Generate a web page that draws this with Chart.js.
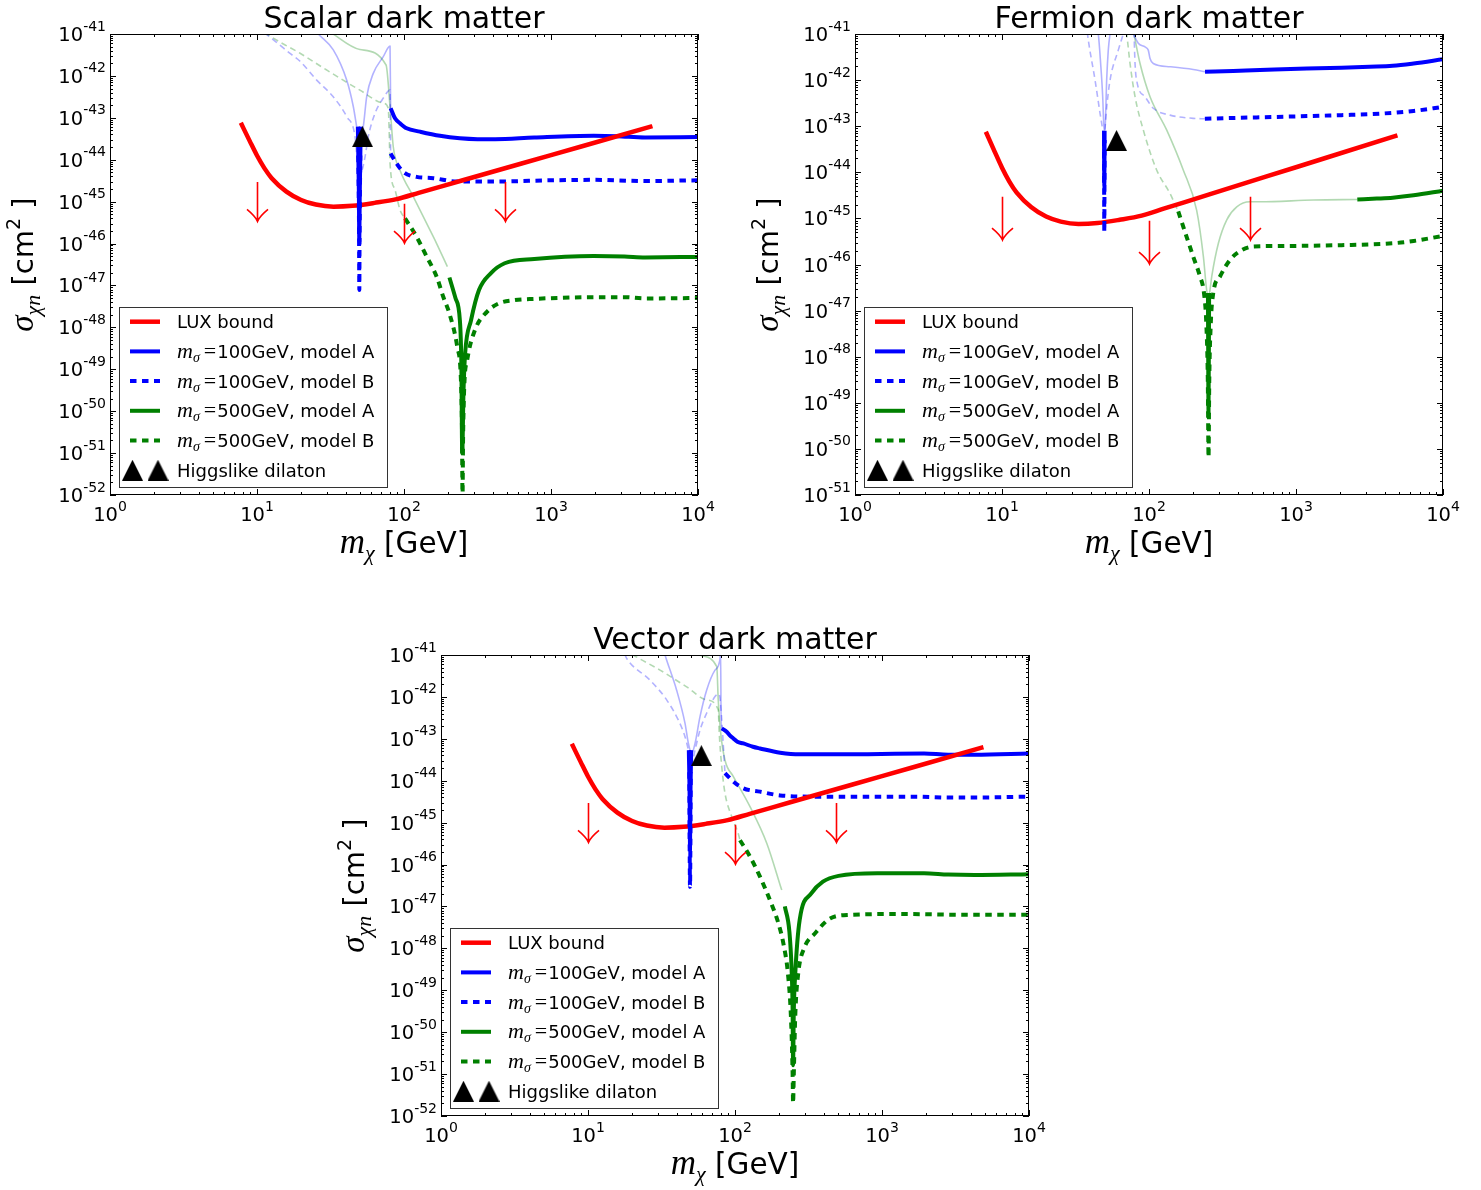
<!DOCTYPE html>
<html>
<head>
<meta charset="utf-8">
<title>Dark matter direct detection</title>
<script src="https://cdn.jsdelivr.net/npm/chart.js@4.4.0/dist/chart.umd.min.js"></script>
<style>
  html, body { margin: 0; padding: 0; background: #fff; }
  body { width: 1481px; height: 1190px; position: relative; overflow: hidden; }
  canvas { position: absolute; }
</style>
</head>
<body>
<canvas id="scalarChart" width="740" height="580" style="left:0;top:0"></canvas>
<canvas id="fermionChart" width="741" height="580" style="left:740px;top:0"></canvas>
<canvas id="vectorChart" width="740" height="580" style="left:330px;top:610px"></canvas>
<script>
// every point is [log10(m_chi / GeV), log10(sigma / cm^2)]

// tick labels (exponents of 10)
const xTickExps = [0, 1, 2, 3, 4];
const yTickExpsScalar = [-41, -42, -43, -44, -45, -46, -47, -48, -49, -50, -51, -52];
const yTickExpsFermion = [-41, -42, -43, -44, -45, -46, -47, -48, -49, -50, -51];

// LUX bound, same curve in the three panels
const luxBound = [[0.89,-43.12],[0.95,-43.55],[1.0,-43.90],[1.05,-44.20],[1.1,-44.44],[1.2,-44.76],[1.3,-44.96],[1.4,-45.07],[1.52,-45.12],[1.65,-45.10],[1.8,-45.03],[1.95,-44.94],[2.1,-44.79],[2.4,-44.49],[2.8,-44.09],[3.2,-43.69],[3.69,-43.20]];

// red arrows: position, tail, tip
const arrowX = [1.0, 2.0, 2.69];
const arrowTail = [-44.53, -45.05, -44.53];
const arrowTip = [-45.47, -45.99, -45.47];

// ---- scalar dark matter ----
const scalarA = [[1.909,-42.77],[1.939,-43.01],[1.973,-43.13],[2.018,-43.25],[2.109,-43.33],[2.245,-43.43],[2.38,-43.49],[2.5,-43.51],[2.62,-43.51],[2.886,-43.47],[3.29,-43.43],[3.45,-43.44],[3.64,-43.47],[4.0,-43.46]];
const scalarASpike = [[1.686,-43.21],[1.693,-44.8],[1.696,-45.95],[1.699,-44.8],[1.706,-43.21]];
const scalarB = [[1.909,-43.85],[1.95,-44.09],[1.995,-44.29],[2.086,-44.41],[2.199,-44.44],[2.358,-44.52],[2.62,-44.52],[3.0,-44.49],[3.3,-44.48],[3.64,-44.51],[4.0,-44.49]];
const scalarBSpike = [[1.689,-43.9],[1.694,-45.6],[1.696,-47.11],[1.698,-45.6],[1.703,-43.9]];
const scalarC = [[2.309,-46.81],[2.35,-47.3],[2.38,-47.83],[2.39,-48.86],[2.396,-51.0],[2.405,-49.5],[2.416,-48.62],[2.456,-47.83],[2.51,-47.11],[2.59,-46.71],[2.685,-46.47],[2.886,-46.37],[3.29,-46.30],[3.5,-46.31],[3.64,-46.33],[4.0,-46.32]];
const scalarD = [[2.007,-45.40],[2.086,-45.84],[2.154,-46.31],[2.222,-46.79],[2.267,-47.27],[2.309,-47.67],[2.362,-48.46],[2.389,-49.42],[2.395,-50.61],[2.398,-52.1],[2.402,-50.6],[2.41,-49.4],[2.43,-48.78],[2.483,-48.06],[2.564,-47.63],[2.644,-47.43],[2.752,-47.35],[2.886,-47.32],[3.29,-47.28],[3.5,-47.28],[3.64,-47.31],[4.0,-47.30]];
const scalarAFaint = [[1.40,-40.93],[1.417,-41.0],[1.519,-41.38],[1.61,-42.10],[1.655,-42.73],[1.678,-43.21],[1.69,-43.45],[1.703,-43.45],[1.723,-43.21],[1.746,-42.50],[1.791,-41.94],[1.859,-41.54],[1.905,-41.29],[1.909,-42.77]];
const scalarBFaint = [[1.05,-40.97],[1.15,-41.25],[1.22,-41.45],[1.293,-41.65],[1.406,-42.10],[1.519,-42.50],[1.61,-42.97],[1.667,-43.45],[1.68,-43.93],[1.706,-44.3],[1.735,-43.93],[1.757,-43.45],[1.803,-42.89],[1.859,-42.53],[1.905,-42.34],[1.909,-43.85]];
const scalarCFaint = [[1.50,-40.95],[1.519,-41.0],[1.70,-41.37],[1.878,-41.74],[1.905,-42.73],[1.927,-43.69],[1.973,-44.25],[2.063,-44.88],[2.154,-45.52],[2.222,-46.0],[2.295,-46.55]];
const scalarDFaint = [[1.05,-40.97],[1.17,-41.22],[1.293,-41.46],[1.474,-41.86],[1.70,-42.34],[1.859,-42.65],[1.893,-42.77],[1.899,-43.29],[1.905,-44.09],[1.939,-44.72],[1.973,-45.20],[2.007,-45.40]];
const scalarDilaton = [[1.718,-43.45]];

// ---- fermion dark matter ----
const fermionA = [[2.381,-41.82],[2.573,-41.80],[2.755,-41.78],[2.853,-41.77],[3.31,-41.73],[3.5,-41.71],[3.658,-41.69],[3.8,-41.64],[4.0,-41.55]];
const fermionASpike = [[1.694,-43.1],[1.696,-44.28],[1.698,-43.1]];
const fermionB = [[2.38,-42.84],[2.584,-42.82],[2.853,-42.80],[3.309,-42.76],[3.5,-42.74],[3.658,-42.71],[3.8,-42.67],[4.0,-42.58]];
const fermionBSpike = [[1.694,-43.3],[1.696,-45.29],[1.698,-43.3]];
const fermionC = [[3.417,-44.59],[3.55,-44.57],[3.658,-44.55],[3.8,-44.50],[4.0,-44.40]];
const fermionCSpike = [[2.401,-46.62],[2.405,-49.22],[2.409,-46.62]];
const fermionD = [[2.199,-44.85],[2.256,-45.40],[2.301,-45.83],[2.347,-46.26],[2.374,-46.62],[2.39,-47.3],[2.40,-48.5],[2.405,-50.18],[2.41,-48.5],[2.42,-47.3],[2.437,-46.62],[2.483,-46.26],[2.551,-45.90],[2.63,-45.69],[2.71,-45.61],[2.853,-45.60],[3.31,-45.58],[3.658,-45.54],[3.8,-45.49],[4.0,-45.38]];
const fermionAFaintLow = [[1.650,-40.95],[1.655,-41.0],[1.671,-41.64],[1.685,-42.36],[1.692,-42.94],[1.697,-43.12],[1.703,-42.94],[1.712,-42.0],[1.723,-41.35],[1.735,-41.0],[1.74,-40.9]];
const fermionAFaintHigh = [[1.895,-40.95],[1.898,-41.0],[1.927,-41.2],[1.973,-41.28],[1.995,-41.35],[2.007,-41.53],[2.029,-41.64],[2.143,-41.71],[2.301,-41.77],[2.381,-41.82]];
const fermionBFaintLow = [[1.58,-40.95],[1.587,-41.13],[1.633,-42.0],[1.667,-42.72],[1.685,-43.08],[1.694,-43.3],[1.70,-43.08],[1.712,-42.6],[1.735,-42.0],[1.791,-41.35],[1.825,-41.0],[1.83,-40.95]];
const fermionBFaintHigh = [[1.898,-40.95],[1.905,-41.64],[1.920,-42.07],[1.973,-42.36],[2.029,-42.61],[2.143,-42.76],[2.301,-42.83],[2.38,-42.84]];
const fermionCFaint = [[1.895,-40.95],[1.898,-41.0],[1.939,-41.64],[2.007,-42.36],[2.12,-43.08],[2.233,-43.95],[2.324,-44.82],[2.37,-45.83],[2.392,-46.55],[2.405,-46.75],[2.415,-46.55],[2.427,-46.26],[2.472,-45.54],[2.529,-45.03],[2.597,-44.75],[2.687,-44.64],[2.755,-44.64],[3.12,-44.60],[3.417,-44.59]];
const fermionDFaint = [[1.845,-40.95],[1.848,-41.0],[1.871,-41.64],[1.905,-42.36],[1.961,-43.08],[2.052,-43.95],[2.143,-44.46],[2.199,-44.85]];
const fermionDilaton = [[1.779,-43.31]];

// ---- vector dark matter ----
const vectorA = [[1.91,-42.75],[1.943,-42.83],[1.963,-42.91],[1.989,-42.99],[2.016,-43.07],[2.057,-43.11],[2.122,-43.19],[2.17,-43.23],[2.307,-43.33],[2.44,-43.37],[2.704,-43.37],[3.286,-43.35],[3.45,-43.38],[3.63,-43.38],[4.0,-43.35]];
const vectorASpike = [[1.686,-43.27],[1.692,-44.6],[1.694,-45.65],[1.696,-44.6],[1.702,-43.27]];
const vectorB = [[1.932,-43.82],[1.989,-44.02],[2.057,-44.18],[2.17,-44.26],[2.307,-44.35],[2.571,-44.38],[3.233,-44.38],[3.45,-44.40],[3.63,-44.40],[4.0,-44.38]];
const vectorBSpike = [[1.689,-43.8],[1.694,-46.53],[1.699,-43.8]];
const vectorC = [[2.339,-47.0],[2.37,-47.6],[2.385,-48.5],[2.392,-49.5],[2.395,-50.79],[2.40,-49.5],[2.41,-48.6],[2.44,-47.32],[2.519,-46.69],[2.598,-46.41],[2.704,-46.27],[2.968,-46.21],[3.286,-46.21],[3.45,-46.24],[3.63,-46.25],[4.0,-46.23]];
const vectorD = [[2.034,-45.42],[2.102,-45.81],[2.17,-46.29],[2.238,-46.85],[2.295,-47.40],[2.33,-47.9],[2.36,-48.6],[2.38,-49.6],[2.392,-51.0],[2.395,-51.69],[2.40,-51.0],[2.41,-49.6],[2.43,-48.6],[2.47,-48.0],[2.545,-47.64],[2.65,-47.28],[2.783,-47.20],[3.1,-47.18],[3.63,-47.20],[4.0,-47.20]];
const vectorAFaint = [[1.52,-40.95],[1.524,-41.0],[1.603,-41.84],[1.66,-42.63],[1.683,-43.11],[1.705,-43.35],[1.728,-43.11],[1.762,-42.47],[1.807,-41.84],[1.864,-41.36],[1.898,-41.1],[1.902,-40.85],[1.906,-42.75],[1.91,-42.75]];
const vectorBFaint = [[1.25,-40.98],[1.263,-41.08],[1.422,-41.60],[1.535,-42.07],[1.614,-42.55],[1.66,-42.95],[1.683,-43.27],[1.705,-43.6],[1.728,-43.27],[1.762,-42.79],[1.807,-42.39],[1.864,-41.99],[1.891,-41.93],[1.90,-42.1],[1.932,-43.82]];
const vectorCFaint = [[1.76,-40.97],[1.762,-41.0],[1.876,-41.28],[1.886,-42.07],[1.903,-42.87],[1.932,-43.51],[1.989,-43.90],[2.102,-44.62],[2.216,-45.49],[2.318,-46.61]];
const vectorDFaint = [[1.30,-40.98],[1.308,-41.0],[1.49,-41.36],[1.671,-41.76],[1.807,-42.07],[1.886,-42.31],[1.893,-42.87],[1.91,-43.67],[1.932,-44.30],[1.978,-44.86],[2.022,-45.26],[2.034,-45.42]];
const vectorDilaton = [[1.771,-43.40]];

// legend texts
const legendMass = ['100GeV, model A', '100GeV, model B', '500GeV, model A', '500GeV, model B'];

const RED = '#ff0000', BLUE = '#0000ff', GREEN = '#008000';
const FAINT_BLUE = 'rgba(0, 0, 255, 0.3)', FAINT_GREEN = 'rgba(0, 128, 0, 0.3)';
const DOTS = [6.5, 5.5], DASHES = [6, 4];
const SANS = '"DejaVu Sans", sans-serif';
const SERIF = '"Liberation Serif", "DejaVu Serif", serif';

const toPoints = arr => arr.map(([lm, ls]) => ({ x: 10 ** lm, y: 10 ** ls }));

// black triangle used as point style (isoceles, like matplotlib '^')
function makeTriangle(size) {
    const c = document.createElement('canvas');
    c.width = size; c.height = size;
    const g = c.getContext('2d');
    g.fillStyle = '#000';
    g.beginPath();
    g.moveTo(size / 2, 0);
    g.lineTo(size, size);
    g.lineTo(0, size);
    g.closePath();
    g.fill();
    return c;
}
const triangle = makeTriangle(21);

// draws a list of text runs (different fonts / offsets) in a row
function drawRuns(ctx, runs, x, y, align) {
    let total = 0;
    runs.forEach(r => {
        ctx.font = r.font;
        r.w = ctx.measureText(r.text).width + (r.gap || 0);
        total += r.w;
    });
    let cx = align === 'center' ? x - total / 2 : (align === 'right' ? x - total : x);
    ctx.textAlign = 'left';
    ctx.textBaseline = 'alphabetic';
    runs.forEach(r => {
        ctx.font = r.font;
        ctx.fillText(r.text, cx + (r.gap || 0), y + (r.dy || 0));
        cx += r.w;
    });
}

function powRuns(exp) {
    return [
        { text: '10', font: '19.5px ' + SANS },
        { text: String(exp), font: '14px ' + SANS, dy: -10.5 }
    ];
}

function decorPlugin(panel) {
    return {
        id: 'decor',
        afterDatasetsDraw(chart) {
            const ctx = chart.ctx;
            const a = chart.chartArea;
            const xs = chart.scales.x, ys = chart.scales.y;
            ctx.save();

            // red arrows
            ctx.strokeStyle = RED;
            ctx.lineWidth = 1.6;
            arrowX.forEach((lx, i) => {
                const x = Math.round(xs.getPixelForValue(10 ** lx)) + 0.5;
                const y0 = ys.getPixelForValue(10 ** arrowTail[i]);
                const y1 = ys.getPixelForValue(10 ** arrowTip[i]);
                ctx.beginPath();
                ctx.moveTo(x, y0); ctx.lineTo(x, y1);
                ctx.moveTo(x - 10.5, y1 - 12); ctx.quadraticCurveTo(x - 2, y1 - 5, x, y1);
                ctx.quadraticCurveTo(x + 2, y1 - 5, x + 10.5, y1 - 12);
                ctx.stroke();
            });

            // frame
            ctx.strokeStyle = '#000';
            ctx.lineWidth = 1;
            ctx.strokeRect(a.left + 0.5, a.top + 0.5, a.width - 1, a.height - 1);

            // ticks, inward on all four sides
            ctx.beginPath();
            for (let e = xTickExps[0]; e <= xTickExps[xTickExps.length - 1]; e++) {
                for (let k = 1; k <= 9; k++) {
                    if (e === xTickExps[xTickExps.length - 1] && k > 1) break;
                    const x = Math.round(xs.getPixelForValue(k * 10 ** e)) + 0.5;
                    const len = k === 1 ? 6 : 3;
                    ctx.moveTo(x, a.bottom); ctx.lineTo(x, a.bottom - len);
                    ctx.moveTo(x, a.top); ctx.lineTo(x, a.top + len);
                }
            }
            const yExps = panel.yTicks;
            const yMin = yExps[yExps.length - 1];
            for (let e = yMin; e <= yExps[0]; e++) {
                for (let k = 1; k <= 9; k++) {
                    if (e === yExps[0] && k > 1) break;
                    const y = Math.round(ys.getPixelForValue(k * 10 ** e)) + 0.5;
                    const len = k === 1 ? 6 : 3;
                    ctx.moveTo(a.left, y); ctx.lineTo(a.left + len, y);
                    ctx.moveTo(a.right, y); ctx.lineTo(a.right - len, y);
                }
            }
            ctx.stroke();

            // tick labels
            ctx.fillStyle = '#000';
            xTickExps.forEach(e => {
                drawRuns(ctx, powRuns(e), xs.getPixelForValue(10 ** e), a.bottom + 26, 'center');
            });
            yExps.forEach(e => {
                drawRuns(ctx, powRuns(e), a.left - 4, ys.getPixelForValue(10 ** e) + 7, 'right');
            });

            // title
            ctx.font = '30px ' + SANS;
            ctx.textAlign = 'center';
            ctx.fillText(panel.title, (a.left + a.right) / 2, a.top - 6);

            // axis titles
            drawRuns(ctx, [
                { text: 'm', font: 'italic 35px ' + SERIF },
                { text: 'χ', font: 'italic 22px ' + SERIF, dy: 7 },
                { text: ' [GeV]', font: '29.5px ' + SANS }
            ], (a.left + a.right) / 2, a.bottom + 58, 'center');

            ctx.save();
            ctx.translate(a.left - 77, (a.top + a.bottom) / 2);
            ctx.rotate(-Math.PI / 2);
            drawRuns(ctx, [
                { text: 'σ', font: 'italic 33px ' + SERIF },
                { text: 'χn', font: 'italic 22px ' + SERIF, dy: 7 },
                { text: ' [cm', font: '29px ' + SANS },
                { text: '2', font: '19px ' + SANS, dy: -13 },
                { text: ' ]', font: '29px ' + SANS }
            ], 0, 0, 'center');
            ctx.restore();

            // legend
            const lx = a.left + 9, ly = a.bottom - 188, lw = 268, lh = 180;
            ctx.fillStyle = '#fff';
            ctx.fillRect(lx, ly, lw, lh);
            ctx.strokeStyle = '#333';
            ctx.lineWidth = 1;
            ctx.strokeRect(lx + 0.5, ly + 0.5, lw, lh);
            const rows = [
                { color: RED, dash: [], width: 4.5 },
                { color: BLUE, dash: [], width: 4 },
                { color: BLUE, dash: DOTS, width: 4 },
                { color: GREEN, dash: [], width: 4 },
                { color: GREEN, dash: DOTS, width: 4 }
            ];
            rows.forEach((r, i) => {
                const y = ly + 14.7 + i * 29.7;
                ctx.strokeStyle = r.color;
                ctx.lineWidth = r.width;
                ctx.setLineDash(r.dash);
                ctx.beginPath();
                ctx.moveTo(lx + 11, y); ctx.lineTo(lx + 41, y);
                ctx.stroke();
                ctx.setLineDash([]);
                ctx.fillStyle = '#000';
                if (i === 0) {
                    drawRuns(ctx, [{ text: 'LUX bound', font: '18px ' + SANS }], lx + 58, y + 6.5, 'left');
                } else {
                    drawRuns(ctx, [
                        { text: 'm', font: 'italic 22px ' + SERIF },
                        { text: 'σ', font: 'italic 14px ' + SERIF, dy: 4 },
                        { text: '=', font: '22px ' + SERIF, gap: 4 },
                        { text: legendMass[i - 1], font: '18px ' + SANS, gap: 1 }
                    ], lx + 58, y + 6.5, 'left');
                }
            });
            const ty = ly + 14.7 + 5 * 29.7;
            ctx.drawImage(triangle, lx + 3, ty - 10.5);
            ctx.drawImage(triangle, lx + 28.5, ty - 10.5);
            ctx.fillStyle = '#000';
            drawRuns(ctx, [{ text: 'Higgslike dilaton', font: '18px ' + SANS }], lx + 58, ty + 6.5, 'left');

            ctx.restore();
        }
    };
}

function lineSet(data, color, width, dash, order) {
    return {
        data: toPoints(data),
        borderColor: color,
        borderWidth: width,
        borderDash: dash,
        borderJoinStyle: 'round',
        borderCapStyle: 'butt',
        pointRadius: 0,
        fill: false,
        cubicInterpolationMode: 'monotone',
        order: order
    };
}

function makeChart(panel) {
    const datasets = [];
    panel.faint.forEach(([d, c, dashed]) => datasets.push(lineSet(d, c, 1.6, dashed ? DASHES : [], 6)));
    panel.thick.forEach(([d, c, dotted, order]) => datasets.push(lineSet(d, c, 4, dotted ? DOTS : [], order)));
    datasets.push(lineSet(luxBound, RED, 4.5, [], 3));
    datasets.push({
        data: toPoints(panel.dilaton),
        showLine: false,
        pointStyle: triangle,
        pointRadius: 10,
        order: 1
    });

    const ctx = document.getElementById(panel.canvas).getContext('2d');
    new Chart(ctx, {
        type: 'line',
        data: { datasets: datasets },
        options: {
            responsive: false,
            animation: false,
            events: [],
            layout: { padding: panel.padding },
            plugins: { legend: { display: false }, tooltip: { enabled: false } },
            scales: {
                x: { type: 'logarithmic', min: 1, max: 1e4, display: false },
                y: { type: 'logarithmic', min: 10 ** panel.yTicks[panel.yTicks.length - 1], max: 1e-41, display: false }
            }
        },
        plugins: [decorPlugin(panel)]
    });
}

document.addEventListener('DOMContentLoaded', () => {
    makeChart({
        canvas: 'scalarChart', title: 'Scalar dark matter', yTicks: yTickExpsScalar,
        padding: { left: 110, top: 34, right: 42, bottom: 85 },
        faint: [[scalarAFaint, FAINT_BLUE, false], [scalarBFaint, FAINT_BLUE, true], [scalarCFaint, FAINT_GREEN, false], [scalarDFaint, FAINT_GREEN, true]],
        thick: [[scalarA, BLUE, false, 4], [scalarB, BLUE, true, 4], [scalarC, GREEN, false, 4], [scalarD, GREEN, true, 4], [scalarASpike, BLUE, false, 2], [scalarBSpike, BLUE, true, 2]],
        dilaton: scalarDilaton
    });
    makeChart({
        canvas: 'fermionChart', title: 'Fermion dark matter', yTicks: yTickExpsFermion,
        padding: { left: 115, top: 34, right: 38, bottom: 85 },
        faint: [[fermionAFaintLow, FAINT_BLUE, false], [fermionAFaintHigh, FAINT_BLUE, false], [fermionBFaintLow, FAINT_BLUE, true], [fermionBFaintHigh, FAINT_BLUE, true], [fermionCFaint, FAINT_GREEN, false], [fermionDFaint, FAINT_GREEN, true]],
        thick: [[fermionA, BLUE, false, 4], [fermionB, BLUE, true, 4], [fermionC, GREEN, false, 4], [fermionD, GREEN, true, 4], [fermionASpike, BLUE, false, 2], [fermionBSpike, BLUE, true, 2], [fermionCSpike, GREEN, false, 2]],
        dilaton: fermionDilaton
    });
    makeChart({
        canvas: 'vectorChart', title: 'Vector dark matter', yTicks: yTickExpsScalar,
        padding: { left: 111, top: 45, right: 41, bottom: 74 },
        faint: [[vectorAFaint, FAINT_BLUE, false], [vectorBFaint, FAINT_BLUE, true], [vectorCFaint, FAINT_GREEN, false], [vectorDFaint, FAINT_GREEN, true]],
        thick: [[vectorA, BLUE, false, 4], [vectorB, BLUE, true, 4], [vectorC, GREEN, false, 4], [vectorD, GREEN, true, 4], [vectorASpike, BLUE, false, 2], [vectorBSpike, BLUE, true, 2]],
        dilaton: vectorDilaton
    });
});
</script>
</body>
</html>
